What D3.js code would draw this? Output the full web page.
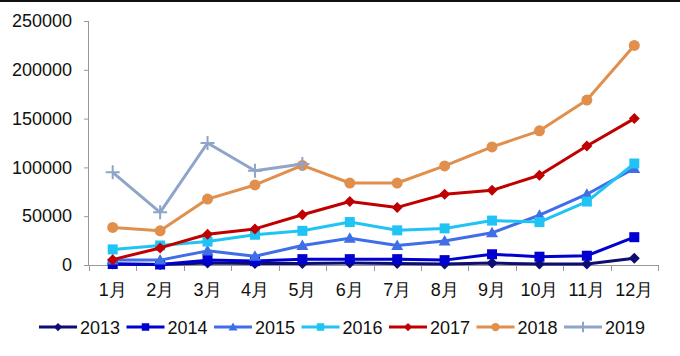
<!DOCTYPE html>
<html><head><meta charset="utf-8">
<script src="https://cdn.jsdelivr.net/npm/d3@7/dist/d3.min.js"></script>
<style>body{margin:0;background:#fff;} svg{display:block;}</style>
</head><body>
<svg id="c" width="680" height="356"></svg>
<script>
const months = ["1月","2月","3月","4月","5月","6月","7月","8月","9月","10月","11月","12月"];
const yTicks = [0,50000,100000,150000,200000,250000];
const years = ["2013","2014","2015","2016","2017","2018","2019"];
const v2013 = [1000,500,2000,1500,1500,2000,1500,1000,2000,1000,1000,7000];
const v2014 = [1000,500,5000,4000,6000,6000,6000,5000,11000,8500,9500,28500];
const v2015 = [5000,5000,14500,9000,20000,27500,20000,24500,33000,51000,72500,99000];
const v2016 = [16000,20000,24000,31000,35000,44000,35500,37500,45500,44000,65000,104000];
const v2017 = [5500,17500,31500,37000,51500,65000,59000,72500,76500,92000,122000,150000];
const v2018 = [38500,35000,67500,82000,102000,84000,84000,101500,121000,137500,169000,225000];
const v2019 = [95000,54000,125000,96500,103500];
const seriesVals = [v2013,v2014,v2015,v2016,v2017,v2018,v2019];
const colors = ["#0d0d72","#0000d0","#3f6ee8","#20c4f4","#c00000","#e08f4c","#8ea5c9"];
const markers = ["diamond","square","triangle","square","diamond","circle","plus"];

const svg = d3.select("#c");
const font = "'Liberation Sans', Arial, sans-serif";
svg.append("rect").attr("x",0).attr("y",0).attr("width",680).attr("height",2).attr("fill","#111");

const x = d3.scaleBand().domain(months).range([89,658]);
const y = d3.scaleLinear().domain([0,250000]).range([265,21]);
const axisCol = "#999";

// y axis
const ya = svg.append("g").attr("transform","translate(89,0)")
  .call(d3.axisLeft(y).tickValues(yTicks).tickSize(5).tickPadding(12).tickFormat(d3.format("d")));
ya.select(".domain").attr("stroke",axisCol).attr("d","M-0.5,21.5V265.5");
ya.selectAll(".tick line").attr("stroke",axisCol);
ya.selectAll("text").attr("font-family",font).attr("font-size",18).attr("fill","#111");

// x axis
const xa = svg.append("g").attr("transform","translate(0,265)")
  .call(d3.axisBottom(x).tickSize(0).tickPadding(18));
xa.select(".domain").attr("stroke",axisCol).attr("d","M89,0.5H658");
xa.selectAll("text").attr("font-family",font).attr("font-size",18).attr("fill","#111");
const bounds = months.map(m=>x(m)).concat([658]);
xa.selectAll(".bt").data(bounds).enter().append("line").attr("class","bt")
  .attr("x1",d=>Math.round(d)+0.5).attr("x2",d=>Math.round(d)+0.5).attr("y1",0).attr("y2",6).attr("stroke",axisCol);

function drawMarker(g, type, cx, cy, col, s){
  s = s||1;
  if(type==="diamond"){
    g.append("path").attr("d",`M${cx},${cy-5.5*s}L${cx+5.5*s},${cy}L${cx},${cy+5.5*s}L${cx-5.5*s},${cy}Z`).attr("fill",col);
  } else if(type==="square"){
    g.append("rect").attr("x",cx-5*s).attr("y",cy-5*s).attr("width",10*s).attr("height",10*s).attr("fill",col);
  } else if(type==="triangle"){
    g.append("path").attr("d",`M${cx},${cy-6*s}L${cx+6*s},${cy+4.5*s}L${cx-6*s},${cy+4.5*s}Z`).attr("fill",col);
  } else if(type==="circle"){
    g.append("circle").attr("cx",cx).attr("cy",cy).attr("r",5.5*s).attr("fill",col);
  } else if(type==="plus"){
    g.append("path").attr("d",`M${cx-7*s},${cy}H${cx+7*s}M${cx},${cy-7*s}V${cy+7*s}`).attr("stroke",col).attr("stroke-width",2);
  }
}

const line = d3.line().x((d,i)=>x(months[i])+x.bandwidth()/2).y(d=>y(d));
seriesVals.forEach((vals,k)=>{
  const g = svg.append("g");
  g.append("path").attr("d",line(vals)).attr("fill","none").attr("stroke",colors[k]).attr("stroke-width",3).attr("stroke-linejoin","round");
  vals.forEach((v,i)=>drawMarker(g,markers[k],x(months[i])+x.bandwidth()/2,y(v),colors[k]));
});

// legend
const lg = svg.append("g");
years.forEach((yr,k)=>{
  const lx = 39 + k*87.5, ly = 327;
  lg.append("line").attr("x1",lx).attr("x2",lx+38).attr("y1",ly).attr("y2",ly).attr("stroke",colors[k]).attr("stroke-width",3);
  drawMarker(lg,markers[k],lx+19,ly,colors[k],0.75);
  lg.append("text").attr("x",lx+41).attr("y",ly+6.5).attr("font-family",font).attr("font-size",18).attr("fill","#111").text(yr);
});
</script>
</body></html>
